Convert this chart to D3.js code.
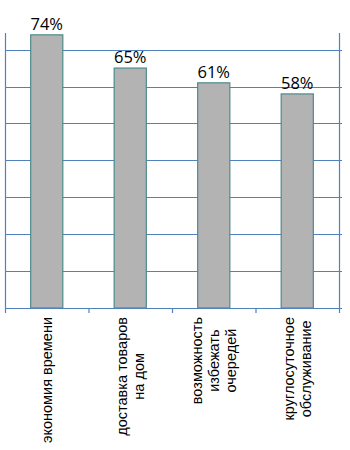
<!DOCTYPE html>
<html>
<head>
<meta charset="utf-8">
<script src="https://cdn.jsdelivr.net/npm/d3@7"></script>
<style>
html,body{margin:0;padding:0;background:#fff;}
svg{display:block;}
</style>
</head>
<body>
<script>
const categories = [
  ["экономия времени"],
  ["доставка товаров", "на дом"],
  ["возможность", "избежать", "очередей"],
  ["круглосуточное", "обслуживание"]
];
const values = [74, 65, 61, 58];
const gridTicks = [10, 20, 30, 40, 50, 60, 70];

const W = 350, H = 450;
const svg = d3.select("body").append("svg").attr("width", W).attr("height", H);

const x = d3.scaleBand().domain(d3.range(categories.length)).range([5, 339]).paddingInner(0.615).paddingOuter(0.3075);
const xOuter = d3.scaleBand().domain(d3.range(categories.length)).range([5, 339]);
const y = d3.scaleLinear().domain([0, 74.5]).range([308, 33]);

const blue = "#4f81bd";

// gridlines
svg.append("g").selectAll("line").data(gridTicks).join("line")
  .attr("x1", 5).attr("x2", 342)
  .attr("y1", d => Math.round(y(d)) + 0.5).attr("y2", d => Math.round(y(d)) + 0.5)
  .attr("stroke", blue).attr("stroke-width", 1.2);

// vertical axes
[5, 339].forEach(px => {
  svg.append("line").attr("x1", px + 0.5).attr("x2", px + 0.5)
    .attr("y1", y(74.5)).attr("y2", y(0))
    .attr("stroke", blue).attr("stroke-width", 1.2);
});

// bars
svg.append("g").selectAll("rect").data(values).join("rect")
  .attr("x", (d, i) => x(i)).attr("width", x.bandwidth())
  .attr("y", d => y(d)).attr("height", d => y(0) - y(d))
  .attr("fill", "#b3b3b3").attr("stroke", "#4e8a8c").attr("stroke-width", 1.2);

// baseline + bottom ticks
svg.append("line").attr("x1", 5).attr("x2", 342).attr("y1", Math.round(y(0)) + 0.5).attr("y2", Math.round(y(0)) + 0.5)
  .attr("stroke", blue).attr("stroke-width", 1.2);
const bounds = d3.range(categories.length).map(i => xOuter(i)).concat([339]);
svg.append("g").selectAll("line").data(bounds).join("line")
  .attr("x1", d => d + 0.5).attr("x2", d => d + 0.5)
  .attr("y1", y(0)).attr("y2", y(0) + 5)
  .attr("stroke", blue).attr("stroke-width", 1.2);

// value labels
svg.append("g").selectAll("text").data(values).join("text")
  .attr("x", (d, i) => x(i) + x.bandwidth() / 2)
  .attr("y", d => y(d) - 5)
  .attr("text-anchor", "middle")
  .attr("font-family", "'Open Sans', 'DejaVu Sans', sans-serif")
  .attr("font-size", 16.5)
  .attr("fill", "#000")
  .text(d => d + "%");

// category labels (rotated)
const lineH = 17;
const topY = 317;
categories.forEach((lines, i) => {
  const cx = xOuter(i) + xOuter.bandwidth() / 2;
  const g = svg.append("g");
  const texts = lines.map((t, j) => {
    const n = lines.length;
    const off = (j - (n - 1) / 2) * lineH;
    return g.append("text")
      .attr("font-family", "'Liberation Sans', Arial, sans-serif")
      .attr("font-size", 14.5)
      .attr("fill", "#000")
      .attr("text-anchor", "middle")
      .text(t)
      .datum(off);
  });
  const maxLen = d3.max(texts, t => t.node().getComputedTextLength());
  const cy = topY + maxLen / 2;
  texts.forEach(t => {
    const off = t.datum();
    t.attr("transform", `translate(${cx + off + 5},${cy}) rotate(-90)`);
  });
});
</script>
</body>
</html>
